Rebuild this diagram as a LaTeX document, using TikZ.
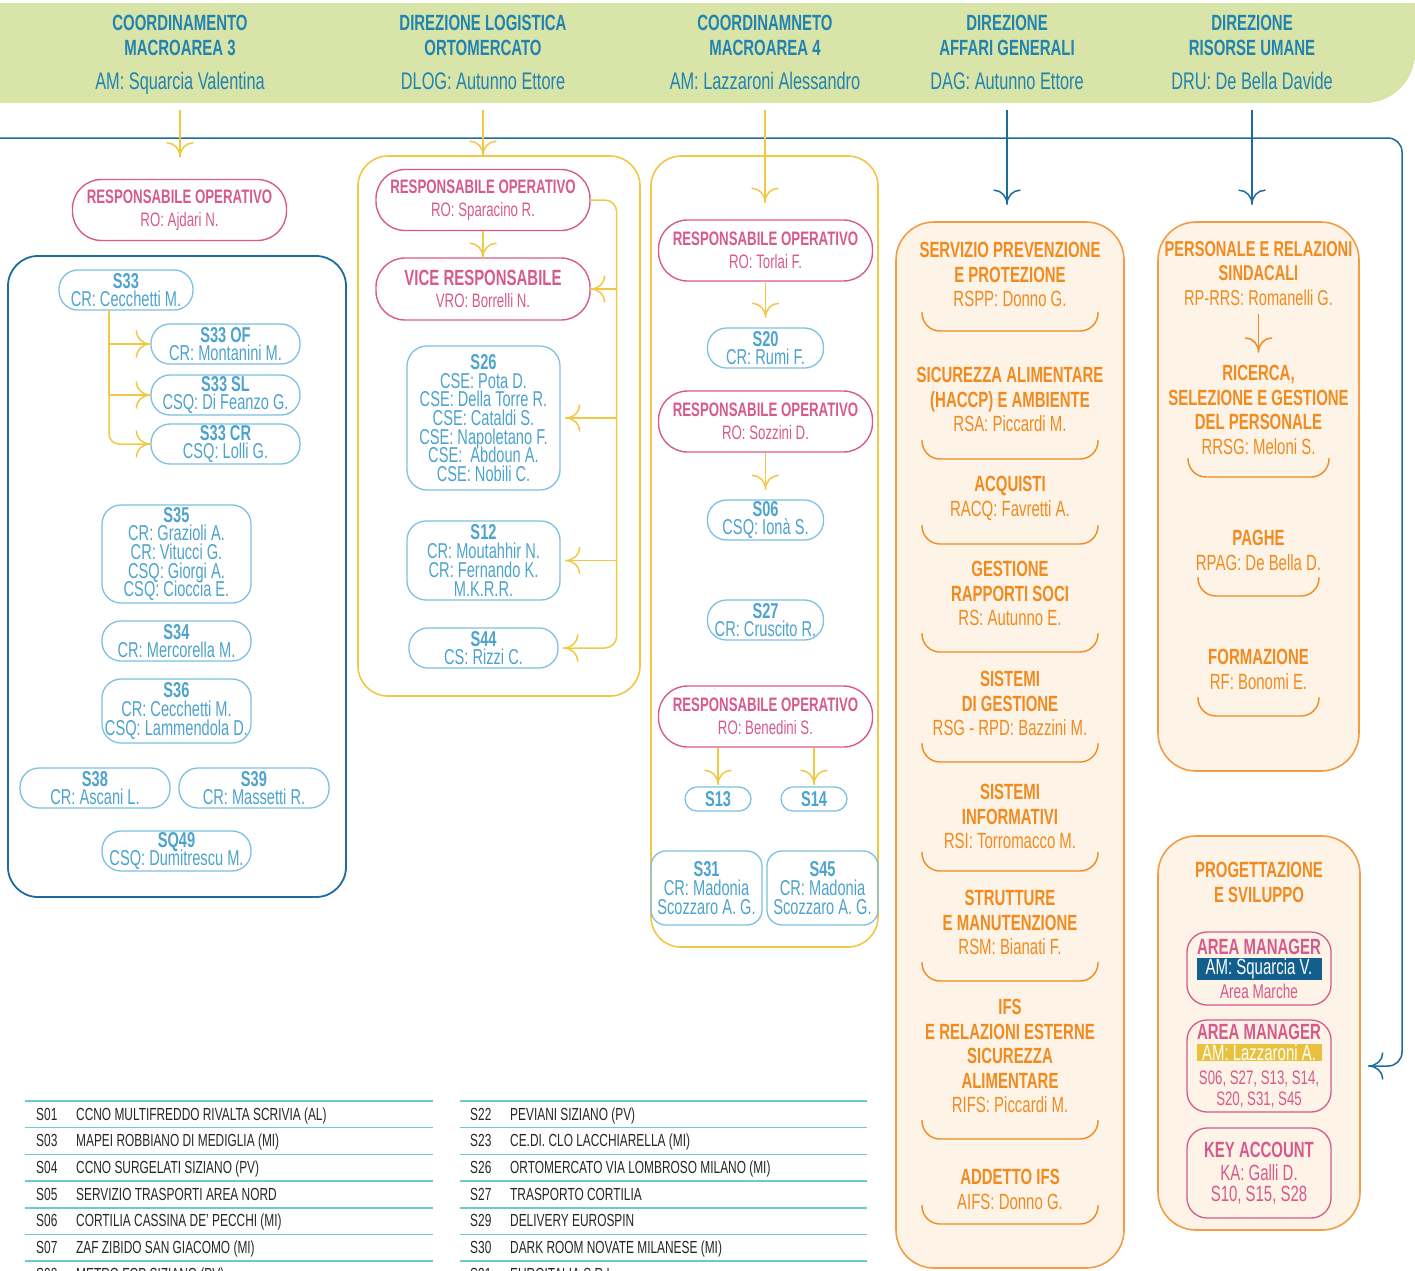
\documentclass[tikz,border=0pt]{standalone}
\usepackage{fontspec}
\setmainfont{Liberation Sans}[FakeStretch=0.68]
\usepackage{tikz}
\usetikzlibrary{calc}
\usetikzlibrary{arrows.meta}

\definecolor{verde}{HTML}{D9E4A9}
\definecolor{blutesta}{HTML}{2183B0}
\definecolor{blu}{HTML}{1D6C9E}
\definecolor{giallo}{HTML}{F2C744}
\definecolor{rosa}{HTML}{D65A8C}
\definecolor{celeste}{HTML}{7CC0E2}
\definecolor{celestetxt}{HTML}{4DA3CC}
\definecolor{arancio}{HTML}{F18A1F}
\definecolor{arancioline}{HTML}{F39B45}
\definecolor{aranciochiaro}{HTML}{FEF3E7}
\definecolor{blusc}{HTML}{125F8E}
\definecolor{ocra}{HTML}{E8C23E}
\definecolor{verdeacqua}{HTML}{6CC9CC}
\definecolor{testo}{HTML}{262626}

\setlength{\fboxsep}{0.5pt}
\lineskiplimit=-20pt

\pgfdeclarearrow{
  name = Fork,
  parameters = {\the\pgfarrowlength,\the\pgfarrowwidth},
  setup code = {
    \pgfarrowssettipend{0pt}
    \pgfarrowssetlineend{-0.5\pgflinewidth}
    \pgfarrowssetbackend{-\pgfarrowlength}
    \pgfarrowsupperhullpoint{-\pgfarrowlength}{.5\pgfarrowwidth}
    \pgfarrowsupperhullpoint{0pt}{0pt}
    \pgfarrowssavethe\pgfarrowlength
    \pgfarrowssavethe\pgfarrowwidth
  },
  drawing code = {
    \pgfsetdash{}{0pt}
    \pgfsetroundcap
    \pgfsetroundjoin
    \pgfpathmoveto{\pgfqpoint{-\pgfarrowlength}{.5\pgfarrowwidth}}
    \pgfpathcurveto{\pgfqpoint{-\pgfarrowlength}{.224\pgfarrowwidth}}{\pgfqpoint{-.552\pgfarrowlength}{0pt}}{\pgfqpoint{0pt}{0pt}}
    \pgfpathcurveto{\pgfqpoint{-.552\pgfarrowlength}{0pt}}{\pgfqpoint{-\pgfarrowlength}{-.224\pgfarrowwidth}}{\pgfqpoint{-\pgfarrowlength}{-.5\pgfarrowwidth}}
    \pgfusepathqstroke
  },
  defaults = {length=14pt, width=26pt}
}

\tikzset{
  testa/.style={text=blutesta, align=center, inner sep=0pt, font=\bfseries\fontsize{22}{25}\selectfont},
  testanome/.style={text=blutesta, anchor=base, inner sep=0pt, text depth=5pt, font=\fontsize{24}{26}\selectfont},
  cornice/.style={line width=1.6pt, rounded corners=30pt, inner sep=0pt},
  ufficiobox/.style={cornice, draw=arancioline, fill=aranciochiaro, rounded corners=38pt},
  resp/.style={draw=rosa, text=rosa, line width=1.4pt, rounded corners=29pt, minimum width=214pt, minimum height=61pt, align=center, inner sep=0pt, font=\fontsize{19.5}{22.5}\selectfont},
  sede/.style={draw=celeste, text=celestetxt, line width=1.3pt, rounded corners=19pt, minimum width=149pt, minimum height=40pt, align=center, inner sep=0pt, font=\fontsize{21.5}{18.7}\selectfont},
  ufficio/.style={text=arancio, align=center, anchor=north, inner sep=0pt, font=\fontsize{22}{24.6}\selectfont},
  area/.style={draw=rosa, text=rosa, line width=1.3pt, rounded corners=20pt, minimum width=144pt, align=center, inner sep=0pt, font=\fontsize{22}{20.5}\selectfont},
  tab/.style={text=testo, anchor=base west, inner sep=0pt, font=\fontsize{17.5}{18}\selectfont},
  riga/.style={draw=verdeacqua, line width=1.6pt},
  freccia/.style={line width=1.5pt, -{Fork}},
  graffa/.style={draw=arancio, line width=1.4pt, rounded corners=18pt},
}

\begin{document}
\begin{tikzpicture}[x=1pt,y=-1pt]
\useasboundingbox (0,0) rectangle (1415,1270);

% fascia delle direzioni
\fill[verde, rounded corners=50pt] (-100,3) rectangle (1415,103);
\fill[verde] (1300,3) rectangle (1415,60);
\node[testa] (t1) at (180,35.5) {COORDINAMENTO\\MACROAREA 3};
\node[testa] (t2) at (483,35.5) {DIREZIONE LOGISTICA\\ORTOMERCATO};
\node[testa] (t3) at (765,35.5) {COORDINAMNETO\\MACROAREA 4};
\node[testa] (t4) at (1007,35.5) {DIREZIONE\\AFFARI GENERALI};
\node[testa] (t5) at (1252,35.5) {DIREZIONE\\RISORSE UMANE};
\node[testanome] (n1) at (180,89) {AM: Squarcia Valentina};
\node[testanome] (n2) at (483,89) {DLOG: Autunno Ettore};
\node[testanome] (n3) at (765,89) {AM: Lazzaroni Alessandro};
\node[testanome] (n4) at (1007,89) {DAG: Autunno Ettore};
\node[testanome] (n5) at (1252,89) {DRU: De Bella Davide};

% cornici
\node[cornice, draw=blu, line width=1.8pt, minimum width=338pt, minimum height=641pt] (c1) at (177,576.5) {};
\node[cornice, draw=giallo, minimum width=282pt, minimum height=540pt] (c2) at (499,426) {};
\node[cornice, draw=giallo, minimum width=227pt, minimum height=791pt] (c3) at (764.5,551.5) {};
\node[ufficiobox, minimum width=228pt, minimum height=1046pt] (c4) at (1010,745) {};
\node[ufficiobox, minimum width=201pt, minimum height=549pt] (c5) at (1258.5,496.5) {};
\node[ufficiobox, minimum width=202pt, minimum height=394pt] (c6) at (1259,1033) {};

% macroarea 3
\node[resp] (ro1) at (179.5,210) {\textbf{RESPONSABILE OPERATIVO}\\RO: Ajdari N.};
\node[sede, minimum width=134pt] (s33) at (126,290) {\textbf{S33}\\CR: Cecchetti M.};
\node[sede] (s33of) at (225.5,344) {\textbf{S33 OF}\\CR: Montanini M.};
\node[sede] (s33sl) at (225.5,395) {\textbf{S33 SL}\\CSQ: Di Feanzo G.};
\node[sede] (s33cr) at (225.5,444) {\textbf{S33 CR}\\CSQ: Lolli G.};
\node[sede, minimum height=98pt] (s35) at (176.5,554) {\textbf{S35}\\CR: Grazioli A.\\CR: Vitucci G.\\CSQ: Giorgi A.\\CSQ: Cioccia E.};
\node[sede] (s34) at (176.5,641) {\textbf{S34}\\CR: Mercorella M.};
\node[sede, minimum height=64pt] (s36) at (176.5,711) {\textbf{S36}\\CR: Cecchetti M.\\CSQ: Lammendola D.};
\node[sede, minimum width=150pt] (s38) at (95,788) {\textbf{S38}\\CR: Ascani L.};
\node[sede, minimum width=150pt] (s39) at (254,788) {\textbf{S39}\\CR: Massetti R.};
\node[sede] (sq49) at (176.5,851) {\textbf{SQ49}\\CSQ: Dumitrescu M.};

% logistica ortomercato
\node[resp] (ro2) at (483,200) {\textbf{RESPONSABILE OPERATIVO}\\RO: Sparacino R.};
\node[resp, minimum height=62pt] (vice) at (483,289) {\textbf{\fontsize{22}{22.5}\selectfont VICE RESPONSABILE}\\VRO: Borrelli N.};
\node[sede, minimum width=153pt, minimum height=144pt, rounded corners=20pt] (s26) at (483.5,418) {\textbf{S26}\\CSE: Pota D.\\CSE: Della Torre R.\\CSE: Cataldi S.\\CSE: Napoletano F.\\CSE:~ Abdoun A.\\CSE: Nobili C.};
\node[sede, minimum width=153pt, minimum height=79pt] (s12) at (483.5,560.5) {\textbf{S12}\\CR: Moutahhir N.\\CR: Fernando K.\\M.K.R.R.};
\node[sede] (s44) at (483.5,648) {\textbf{S44}\\CS: Rizzi C.};

% macroarea 4
\node[resp] (ro3) at (765.5,250.5) {\textbf{RESPONSABILE OPERATIVO}\\RO: Torlai F.};
\node[sede, minimum width=116pt] (s20) at (765.5,348) {\textbf{S20}\\CR: Rumi F.};
\node[resp] (ro4) at (765.5,421.5) {\textbf{RESPONSABILE OPERATIVO}\\RO: Sozzini D.};
\node[sede, minimum width=116pt] (s06) at (765.5,520) {\textbf{S06}\\CSQ: Ionà S.};
\node[sede, minimum width=116pt] (s27) at (765.5,620) {\textbf{S27}\\CR: Cruscito R.};
\node[resp] (ro5) at (765.5,716.5) {\textbf{RESPONSABILE OPERATIVO}\\RO: Benedini S.};
\node[sede, minimum width=66pt, minimum height=24pt, rounded corners=12pt] (s13) at (718,799) {\textbf{S13}};
\node[sede, minimum width=66pt, minimum height=24pt, rounded corners=12pt] (s14) at (814,799) {\textbf{S14}};
\node[sede, minimum width=111pt, minimum height=74pt, rounded corners=15pt] (s31) at (706.5,888) {\textbf{S31}\\CR: Madonia\\Scozzaro A. G.};
\node[sede, minimum width=111pt, minimum height=74pt, rounded corners=15pt] (s45) at (822.5,888) {\textbf{S45}\\CR: Madonia\\Scozzaro A. G.};

% affari generali
\node[ufficio] (u1) at (1010,242) {\textbf{SERVIZIO PREVENZIONE}\\\textbf{E PROTEZIONE}\\RSPP: Donno G.};
\node[ufficio] (u2) at (1010,367) {\textbf{SICUREZZA ALIMENTARE}\\\textbf{(HACCP) E AMBIENTE}\\RSA: Piccardi M.};
\node[ufficio] (u3) at (1010,476) {\textbf{ACQUISTI}\\RACQ: Favretti A.};
\node[ufficio] (u4) at (1010,561) {\textbf{GESTIONE}\\\textbf{RAPPORTI SOCI}\\RS: Autunno E.};
\node[ufficio] (u5) at (1010,671) {\textbf{SISTEMI}\\\textbf{DI GESTIONE}\\RSG - RPD: Bazzini M.};
\node[ufficio] (u6) at (1010,784) {\textbf{SISTEMI}\\\textbf{INFORMATIVI}\\RSI: Torromacco M.};
\node[ufficio] (u7) at (1010,890) {\textbf{STRUTTURE}\\\textbf{E MANUTENZIONE}\\RSM: Bianati F.};
\node[ufficio] (u8) at (1010,999) {\textbf{IFS}\\\textbf{E RELAZIONI ESTERNE}\\\textbf{SICUREZZA}\\\textbf{ALIMENTARE}\\RIFS: Piccardi M.};
\node[ufficio] (u9) at (1010,1169) {\textbf{ADDETTO IFS}\\AIFS: Donno G.};
\foreach \b in {312,440,525,633,743,852,962,1120,1205}
  \draw[graffa] (922,\b) -- (922,\b+19) -- (1098,\b+19) -- (1098,\b);

% risorse umane
\node[ufficio, font=\fontsize{21.5}{24.6}\selectfont] (p1) at (1258.5,241) {\textbf{PERSONALE E RELAZIONI}\\\textbf{SINDACALI}\\RP-RRS: Romanelli G.};
\node[ufficio] (p2) at (1258.5,365) {\textbf{RICERCA,}\\\textbf{SELEZIONE E GESTIONE}\\\textbf{DEL PERSONALE}\\RRSG: Meloni S.};
\node[ufficio] (p3) at (1258.5,530) {\textbf{PAGHE}\\RPAG: De Bella D.};
\node[ufficio] (p4) at (1258.5,649) {\textbf{FORMAZIONE}\\RF: Bonomi E.};
\draw[graffa] (1188,458) -- (1188,477) -- (1329,477) -- (1329,458);
\draw[graffa] (1198,577) -- (1198,596) -- (1319,596) -- (1319,577);
\draw[graffa] (1198,697) -- (1198,716) -- (1319,716) -- (1319,697);

% progettazione e sviluppo
\node[ufficio] (pr) at (1259,862) {\textbf{PROGETTAZIONE}\\\textbf{E SVILUPPO}};
\node[area, minimum height=73pt] (am1) at (1259,968.5) {\textbf{AREA MANAGER}\\\colorbox{blusc}{\makebox[124pt]{\textcolor{white}{AM: Squarcia V.}}}\\[3pt]{\fontsize{20}{20.5}\selectfont Area Marche}};
\node[area, minimum height=92pt] (am2) at (1259,1066) {\textbf{AREA MANAGER}\\\colorbox{ocra}{\makebox[124pt]{\textcolor{white}{AM: Lazzaroni A.}}}\\[4pt]{\fontsize{19.5}{18}\selectfont S06, S27, S13, S14,}\\{\fontsize{19.5}{18}\selectfont S20, S31, S45}};
\node[area, minimum height=90pt] (ka) at (1259,1173) {\textbf{KEY ACCOUNT}\\[3pt]KA: Galli D.\\S10, S15, S28};

% collegamenti
\coordinate (bs) at (0,138);
\coordinate (bd) at (1402,1066);
\draw[blu, freccia, rounded corners=14pt, shorten >=37pt] (bs) -| (bd) -- (am2.east);
\draw[giallo, freccia, shorten <=16pt, shorten >=22pt] (n1) -- (n1 |- ro1.north);
\draw[giallo, freccia, shorten <=16pt] (n2) -- (n2 |- c2.north);
\draw[giallo, freccia, shorten <=16pt, shorten >=17pt] (n3) -- (n3 |- ro3.north);
\draw[blu, freccia, shorten <=16pt, shorten >=17pt] (n4) -- (n4 |- c4.north);
\draw[blu, freccia, shorten <=16pt, shorten >=17pt] (n5) -- (n5 |- c5.north);

\coordinate (ramo) at ($(s33.south)+(-17,0)$);
\draw[giallo, freccia] (ramo) |- (s33of.west);
\draw[giallo, freccia] (ramo) |- (s33sl.west);
\draw[giallo, freccia, rounded corners=10pt] (ramo) |- (s33cr.west);

\coordinate (dorsale) at ($(ro2.east)+(26,0)$);
\draw[giallo, freccia] (ro2) -- (vice);
\draw[giallo, freccia, rounded corners=12pt, shorten >=5pt] (ro2.east) -| (dorsale |- s44.east) -- (s44.east);
\draw[giallo, freccia] (dorsale |- vice.east) -- (vice.east);
\draw[giallo, freccia, shorten >=5pt] (dorsale |- s26.east) -- (s26.east);
\draw[giallo, freccia, shorten >=5pt] (dorsale |- s12.east) -- (s12.east);

\path[giallo, freccia, shorten >=10pt]
  (ro3) edge (s20)
  (ro4) edge (s06);
\draw[giallo, freccia, shorten >=2pt] (s13 |- ro5.south) -- (s13);
\draw[giallo, freccia, shorten >=2pt] (s14 |- ro5.south) -- (s14);
\draw[arancio, freccia, shorten <=8pt, shorten >=13pt] (p1) -- (p2);

% elenco delle sedi
\foreach \i/\c/\t in {0/S01/CCNO MULTIFREDDO RIVALTA SCRIVIA (AL),1/S03/MAPEI ROBBIANO DI MEDIGLIA (MI),2/S04/CCNO SURGELATI SIZIANO (PV),3/S05/SERVIZIO TRASPORTI AREA NORD,4/S06/CORTILIA CASSINA DE' PECCHI (MI),5/S07/ZAF ZIBIDO SAN GIACOMO (MI),6/S08/METRO FCP SIZIANO (PV)}{
  \draw[riga] (25,1101+26.67*\i) -- (433,1101+26.67*\i);
  \node[tab] (sa\i) at (36,1120+26.67*\i) {\c};
  \node[tab] (na\i) at (76,1120+26.67*\i) {\t};
}
\foreach \i/\c/\t in {0/S22/PEVIANI SIZIANO (PV),1/S23/CE.DI. CLO LACCHIARELLA (MI),2/S26/ORTOMERCATO VIA LOMBROSO MILANO (MI),3/S27/TRASPORTO CORTILIA,4/S29/DELIVERY EUROSPIN,5/S30/DARK ROOM NOVATE MILANESE (MI),6/S31/EUROITALIA S.R.L.}{
  \draw[riga] (460,1101+26.67*\i) -- (867,1101+26.67*\i);
  \node[tab] (sb\i) at (470,1120+26.67*\i) {\c};
  \node[tab] (nb\i) at (510,1120+26.67*\i) {\t};
}
\end{tikzpicture}
\end{document}
